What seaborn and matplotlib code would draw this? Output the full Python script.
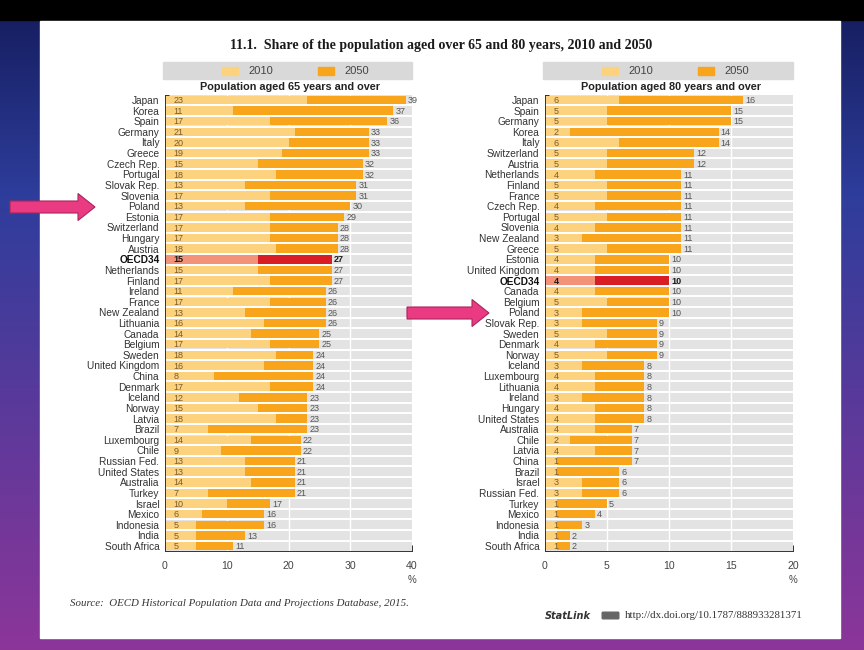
import numpy as np
import pandas as pd
import matplotlib
matplotlib.use("Agg")
import matplotlib.pyplot as plt
from matplotlib import font_manager
from matplotlib.patches import Rectangle, FancyArrow, FancyBboxPatch
import seaborn as sns

# ---------------- data ----------------
countries65 = ["Japan", "Korea", "Spain", "Germany", "Italy", "Greece", "Czech Rep.", "Portugal",
               "Slovak Rep.", "Slovenia", "Poland", "Estonia", "Switzerland", "Hungary", "Austria",
               "OECD34", "Netherlands", "Finland", "Ireland", "France", "New Zealand", "Lithuania",
               "Canada", "Belgium", "Sweden", "United Kingdom", "China", "Denmark", "Iceland",
               "Norway", "Latvia", "Brazil", "Luxembourg", "Chile", "Russian Fed.", "United States",
               "Australia", "Turkey", "Israel", "Mexico", "Indonesia", "India", "South Africa"]
share65_2010 = [23, 11, 17, 21, 20, 19, 15, 18, 13, 17, 13, 17, 17, 17, 18, 15, 15, 17, 11, 17, 13, 16,
                14, 17, 18, 16, 8, 17, 12, 15, 18, 7, 14, 9, 13, 13, 14, 7, 10, 6, 5, 5, 5]
share65_2050 = [39, 37, 36, 33, 33, 33, 32, 32, 31, 31, 30, 29, 28, 28, 28, 27, 27, 27, 26, 26, 26, 26,
                25, 25, 24, 24, 24, 24, 23, 23, 23, 23, 22, 22, 21, 21, 21, 21, 17, 16, 16, 13, 11]

countries80 = ["Japan", "Spain", "Germany", "Korea", "Italy", "Switzerland", "Austria", "Netherlands",
               "Finland", "France", "Czech Rep.", "Portugal", "Slovenia", "New Zealand", "Greece",
               "Estonia", "United Kingdom", "OECD34", "Canada", "Belgium", "Poland", "Slovak Rep.",
               "Sweden", "Denmark", "Norway", "Iceland", "Luxembourg", "Lithuania", "Ireland",
               "Hungary", "United States", "Australia", "Chile", "Latvia", "China", "Brazil",
               "Israel", "Russian Fed.", "Turkey", "Mexico", "Indonesia", "India", "South Africa"]
share80_2010 = [6, 5, 5, 2, 6, 5, 5, 4, 5, 5, 4, 5, 4, 3, 5, 4, 4, 4, 4, 5, 3, 3, 5, 4, 5, 3, 4, 4, 3,
                4, 4, 4, 2, 4, 1, 1, 3, 3, 1, 1, 1, 1, 1]
share80_2050 = [16, 15, 15, 14, 14, 12, 12, 11, 11, 11, 11, 11, 11, 11, 11, 10, 10, 10, 10, 10, 10, 9,
                9, 9, 9, 8, 8, 8, 8, 8, 8, 7, 7, 7, 7, 6, 6, 6, 5, 4, 3, 2, 2]

year_labels = ["2010", "2050"]
subtitles = ["Population aged 65 years and over", "Population aged 80 years and over"]
xticks65 = [0, 10, 20, 30, 40]
xticks80 = [0, 5, 10, 15, 20]
title_text = "11.1.  Share of the population aged over 65 and 80 years, 2010 and 2050"
source_text = "Source:  OECD Historical Population Data and Projections Database, 2015."
statlink_url = "http://dx.doi.org/10.1787/888933281371"

# ---------------- style ----------------
sns.set_theme(style="white")
names = {f.name for f in font_manager.fontManager.ttflist}
narrow = "Liberation Sans Narrow" if "Liberation Sans Narrow" in names else "Liberation Sans"
plt.rcParams["font.family"] = [narrow, "DejaVu Sans"]
SERIF = ["Liberation Serif", "DejaVu Serif"]

C10, C50 = "#fdd27e", "#f8a51c"
O10, O50 = "#f29279", "#d81e24"
GRAYBG = "#e3e3e3"
BAND = "#d9d9d9"

W, H = 864, 650
fig = plt.figure(figsize=(W / 100, H / 100), dpi=100)

# background gradient + white page
bg = fig.add_axes([0, 0, 1, 1], zorder=-10)
ys = np.linspace(0, 1, 400)[:, None]
top = np.array([0.08, 0.11, 0.36])
mid = np.array([0.18, 0.24, 0.61])
bot = np.array([0.55, 0.21, 0.60])
grad = np.where(ys < 0.3, top + (mid - top) * (ys / 0.3), mid + (bot - mid) * ((ys - 0.3) / 0.7))
img = np.repeat(grad[:, None, :], 2, axis=1).reshape(400, 2, 3)
bg.imshow(img, extent=[0, W, H, 0], aspect="auto")
bg.add_patch(Rectangle((0, 0), W, 20, color="black"))
bg.add_patch(Rectangle((40, 21), 800, 617, color="white"))
bg.set_xlim(0, W)
bg.set_ylim(H, 0)
bg.axis("off")


def fx(px):
    return px / W


def fy(py):
    return 1 - py / H


AX_TOP, AX_BOT = 94.7, 551.3


def panel(x0, x1, countries, v10, v50, xticks, subtitle):
    n = len(countries)
    ax = fig.add_axes([fx(x0), fy(AX_BOT), fx(x1 - x0), (AX_BOT - AX_TOP) / H])
    df = pd.DataFrame({"country": countries, "y2010": v10, "y2050": v50})
    pal50 = {c: (O50 if c == "OECD34" else C50) for c in countries}
    pal10 = {c: (O10 if c == "OECD34" else C10) for c in countries}
    sns.barplot(data=df, y="country", x="y2050", hue="country", palette=pal50, orient="h",
                width=0.8, saturation=1, linewidth=0, legend=False, dodge=False, ax=ax, zorder=2)
    sns.barplot(data=df, y="country", x="y2010", hue="country", palette=pal10, orient="h",
                width=0.8, saturation=1, linewidth=0, legend=False, dodge=False, ax=ax, zorder=2)
    xmax = xticks[-1]
    ax.set_facecolor(GRAYBG)
    ax.set_xlim(0, xmax)
    ax.set_ylim(n - 0.5, -0.5)
    for t in xticks[1:-1]:
        ax.axvline(t, color="white", lw=1.0, zorder=1)
    for i in range(n - 1):
        ax.axhline(i + 0.5, color="white", lw=1.4, zorder=1)
    for i, (c, a, b) in enumerate(zip(countries, v10, v50)):
        bold = c == "OECD34"
        ax.annotate(str(a), xy=(0, i), xytext=(6, -0.5), textcoords="offset points",
                    ha="left", va="center", fontsize=6.5, color="#1a1a1a" if bold else "#7a5c2a",
                    fontweight="bold" if bold else "normal", zorder=5)
        ax.annotate(str(b), xy=(b, i), xytext=(1.5, -0.5), textcoords="offset points",
                    ha="left", va="center", fontsize=6.5, color="#1a1a1a" if bold else "#555555",
                    fontweight="bold" if bold else "normal", zorder=5)
    ax.set_yticks(range(n))
    ax.set_yticklabels(countries, fontsize=7.3, color="#333333")
    for lab in ax.get_yticklabels():
        if lab.get_text() == "OECD34":
            lab.set_fontweight("bold")
            lab.set_color("#111111")
    ax.set_yticks(np.arange(n + 1) - 0.5, minor=True)
    ax.tick_params(axis="y", which="major", length=0, pad=4)
    ax.tick_params(axis="y", which="minor", direction="in", length=3, width=0.7, color="#333333", left=True)
    ax.set_xticks(xticks)
    ax.set_xticklabels([str(t) for t in xticks], fontsize=7.6, color="#444444")
    ax.tick_params(axis="x", direction="in", length=4, width=0.7, color="#333333", pad=7, bottom=True)
    ax.set_xlabel("")
    ax.set_ylabel("")
    for s in ["top", "right"]:
        ax.spines[s].set_visible(False)
    for s in ["left", "bottom"]:
        ax.spines[s].set_visible(True)
        ax.spines[s].set_color("#333333")
        ax.spines[s].set_linewidth(0.7)
    ax.annotate("%", xy=(xmax, 0), xycoords=("data", "axes fraction"), xytext=(0, -21),
                textcoords="offset points", ha="center", va="center", fontsize=7, color="#444444")
    # legend band and subtitle
    bg.add_patch(Rectangle((x0 - 2, 62), x1 - x0 + 2, 17, color=BAND, zorder=3))
    bg.add_patch(Rectangle((x0 + 57, 67), 16, 8, color=C10, zorder=4))
    bg.text(x0 + 83, 71, year_labels[0], fontsize=8, color="#444444", va="center", ha="left", zorder=5,
            family=[narrow, "DejaVu Sans"])
    bg.add_patch(Rectangle((x0 + 153, 67), 16, 8, color=C50, zorder=4))
    bg.text(x0 + 179, 71, year_labels[1], fontsize=8, color="#444444", va="center", ha="left", zorder=5,
            family=[narrow, "DejaVu Sans"])
    bg.text((x0 + x1) / 2 + 2, 87.5, subtitle, fontsize=7.8, fontweight="bold", color="#222222",
            ha="center", va="center", zorder=5, family=[narrow, "DejaVu Sans"])
    return ax


panel(165, 412, countries65, share65_2010, share65_2050, xticks65, subtitles[0])
panel(545, 793, countries80, share80_2010, share80_2050, xticks80, subtitles[1])

# overlay: title, source, statlink, arrows
ov = fig.add_axes([0, 0, 1, 1], zorder=10)
ov.set_xlim(0, W)
ov.set_ylim(H, 0)
ov.axis("off")
ov.patch.set_alpha(0)
ov.text(441, 45, title_text, fontsize=10, fontweight="bold", family=SERIF, color="#1a1a1a",
        ha="center", va="center")
ov.text(70, 603, source_text, fontsize=7.8, style="italic", family=SERIF, color="#333333",
        ha="left", va="center")
ov.text(545, 616, "StatLink", fontsize=7, style="italic", fontweight="bold", color="#333333",
        ha="left", va="center", family=["DejaVu Sans"])
ov.add_patch(FancyBboxPatch((603, 613), 15, 5, boxstyle="round,pad=0.8", color="#666666"))
ov.text(625, 616, statlink_url, fontsize=7.8, family=SERIF, color="#333333", ha="left", va="center")
for (xa, xb, yy) in [(10, 95, 207), (407, 489, 313)]:
    ov.add_patch(FancyArrow(xa, yy, xb - xa, 0, width=12, head_width=27, head_length=17,
                            length_includes_head=True, facecolor="#ea3a82", edgecolor="#a8265c", lw=0.8))

fig.savefig("out.png", dpi=100)
